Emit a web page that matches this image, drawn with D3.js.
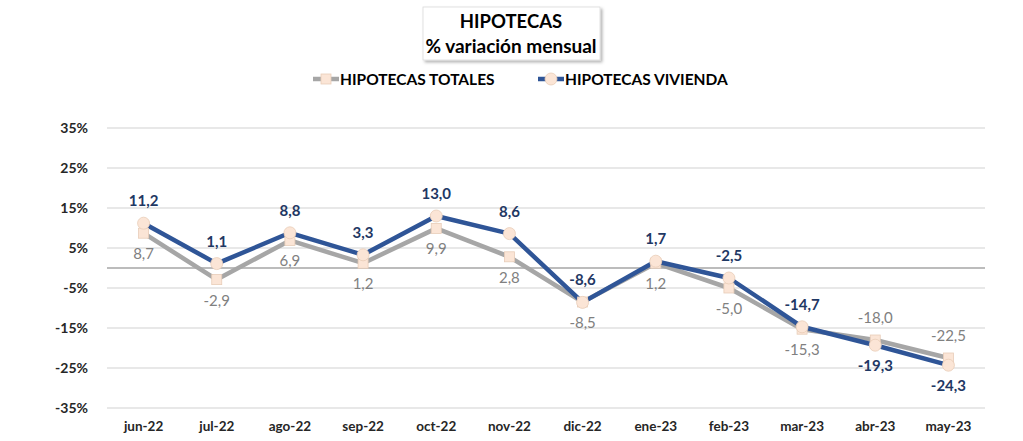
<!DOCTYPE html>
<html>
<head>
<meta charset="utf-8">
<script src="https://cdn.jsdelivr.net/npm/d3@7"></script>
<style>
  body { margin: 0; background: #fff; }
  svg { font-family: Lato, "Open Sans", sans-serif; }
</style>
</head>
<body>
<svg id="chart" width="1023" height="441"></svg>
<script>
const months = ["jun-22", "jul-22", "ago-22", "sep-22", "oct-22", "nov-22",
                "dic-22", "ene-23", "feb-23", "mar-23", "abr-23", "may-23"];
const totales = [8.7, -2.9, 6.9, 1.2, 9.9, 2.8, -8.5, 1.2, -5.0, -15.3, -18.0, -22.5];
const vivienda = [11.2, 1.1, 8.8, 3.3, 13.0, 8.6, -8.6, 1.7, -2.5, -14.7, -19.3, -24.3];
const yTicks = [35, 25, 15, 5, -5, -15, -25, -35];

const svg = d3.select("#chart");
const margin = { left: 107, right: 38, top: 128, bottom: 33 };
const W = 1023, H = 441;

const x = d3.scaleBand().domain(months).range([margin.left, W - margin.right]);
const y = d3.scaleLinear().domain([-35, 35]).range([H - margin.bottom, margin.top]);
const cx = d => x(d) + x.bandwidth() / 2;

const fmt = v => v.toFixed(1).replace(".", ",");

// gridlines
svg.append("g").selectAll("line").data(yTicks).enter().append("line")
    .attr("x1", margin.left).attr("x2", W - margin.right)
    .attr("y1", d => y(d)).attr("y2", d => y(d))
    .style("stroke", "#e0e0e0").style("stroke-width", 1.4);

svg.append("line")
    .attr("x1", margin.left).attr("x2", W - margin.right)
    .attr("y1", y(0)).attr("y2", y(0))
    .style("stroke", "#a6a6a6").style("stroke-width", 1.5);

// y axis
const yAxis = svg.append("g")
    .attr("transform", `translate(${margin.left - 16},0)`)
    .call(d3.axisLeft(y).tickValues(yTicks).tickSize(0).tickFormat(d => d + "%"));
yAxis.select(".domain").remove();
yAxis.selectAll("text")
    .style("font-size", "14px").style("font-weight", "bold").style("fill", "#262626")
    .style("font-family", "Lato, sans-serif");

// x axis
const xAxis = svg.append("g")
    .attr("transform", `translate(0,${H - margin.bottom + 10})`)
    .call(d3.axisBottom(x).tickSize(0));
xAxis.select(".domain").remove();
xAxis.selectAll("text")
    .style("font-size", "13.5px").style("font-weight", "bold").style("fill", "#262626")
    .style("font-family", "Lato, sans-serif");

const series = [
    { name: "HIPOTECAS TOTALES", values: totales, color: "#a6a6a6", marker: "square",
      labelColor: "#808080", weight: "normal" },
    { name: "HIPOTECAS VIVIENDA", values: vivienda, color: "#2f5597", marker: "circle",
      labelColor: "#1f3864", weight: "bold" }
];

const line = d3.line().x((d, i) => cx(months[i])).y(d => y(d));

series.forEach(s => {
    svg.append("path")
        .datum(s.values)
        .attr("d", line)
        .style("fill", "none")
        .style("stroke", s.color)
        .style("stroke-width", 4.5)
        .style("stroke-linejoin", "round");
});

series.forEach(s => {
    const g = svg.append("g");
    s.values.forEach((v, i) => {
        if (s.marker === "square") {
            g.append("rect")
                .attr("x", cx(months[i]) - 5).attr("y", y(v) - 5)
                .attr("width", 10).attr("height", 10)
                .style("fill", "#fbe5d6").style("stroke", "#e8cdb8").style("stroke-width", 0.8);
        } else {
            g.append("circle")
                .attr("cx", cx(months[i])).attr("cy", y(v)).attr("r", 6)
                .style("fill", "#fbe5d6").style("stroke", "#e8cdb8").style("stroke-width", 0.8);
        }
    });
});

// data labels: vivienda goes above unless it is clearly below totales
const vivAbove = vivienda.map((v, i) => v > totales[i] - 1);
series.forEach((s, si) => {
    svg.append("g").selectAll("text").data(s.values).enter().append("text")
        .attr("x", (d, i) => cx(months[i]))
        .attr("y", (d, i) => (vivAbove[i] === (si === 1)) ? y(d) - 17 : y(d) + 26)
        .attr("text-anchor", "middle")
        .style("font-size", "15px")
        .style("font-weight", s.weight)
        .style("fill", s.labelColor)
        .text(d => fmt(d));
});

// title box
const defs = svg.append("defs");
const f = defs.append("filter").attr("id", "shadow").attr("x", "-10%").attr("y", "-10%")
    .attr("width", "130%").attr("height", "140%");
f.append("feDropShadow").attr("dx", 2).attr("dy", 2).attr("stdDeviation", 1.5)
    .attr("flood-color", "#000").attr("flood-opacity", 0.3);

svg.append("rect")
    .attr("x", 423).attr("y", 7).attr("width", 177).attr("height", 53)
    .style("fill", "#fff").style("stroke", "#d9d9d9").style("stroke-width", 0.8)
    .attr("filter", "url(#shadow)");

svg.append("text").attr("x", 511).attr("y", 28).attr("text-anchor", "middle")
    .style("font-size", "18.5px").style("font-weight", "bold").style("fill", "#000")
    .text("HIPOTECAS");
svg.append("text").attr("x", 511).attr("y", 53).attr("text-anchor", "middle")
    .style("font-size", "19px").style("font-weight", "bold").style("fill", "#000")
    .text("% variación mensual");

// legend
const legendX = [313, 538];
series.forEach((s, i) => {
    const g = svg.append("g").attr("transform", `translate(${legendX[i]},79)`);
    g.append("line").attr("x1", 0).attr("x2", 26)
        .style("stroke", s.color).style("stroke-width", 4.5);
    if (s.marker === "square") {
        g.append("rect").attr("x", 8).attr("y", -5).attr("width", 10).attr("height", 10)
            .style("fill", "#fbe5d6").style("stroke", "#e8cdb8").style("stroke-width", 0.8);
    } else {
        g.append("circle").attr("cx", 13).attr("r", 6)
            .style("fill", "#fbe5d6").style("stroke", "#e8cdb8").style("stroke-width", 0.8);
    }
    g.append("text").attr("x", 27).attr("y", 6)
        .style("font-size", "15.5px").style("font-weight", "bold").style("fill", "#000")
        .text(s.name);
});
</script>
</body>
</html>
